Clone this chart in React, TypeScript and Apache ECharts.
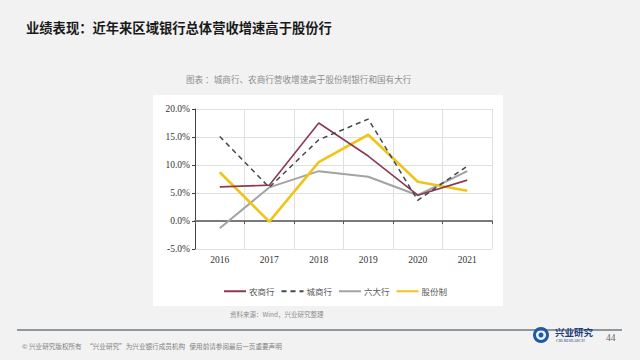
import React, { useEffect, useRef } from "react";
import * as echarts from "echarts";

const years = ["2016", "2017", "2018", "2019", "2020", "2021"];
const nongshang = [6.1, 6.4, 17.5, 11.6, 4.6, 7.3];
const chengshang = [15.1, 6.0, 14.5, 18.2, 3.7, 9.8];
const liuda = [-1.3, 6.0, 8.9, 7.9, 4.6, 8.9];
const gufen = [8.7, -0.1, 10.5, 15.4, 7.0, 5.4];
const seriesNames = ["农商行", "城商行", "六大行", "股份制"];

const serif = "'Liberation Serif', 'DejaVu Serif', serif";
const cjk = "'Noto Sans CJK SC', sans-serif";

export default function App() {
  const ref = useRef<HTMLDivElement>(null);
  useEffect(() => {
    document.body.style.margin = "0";
    const chart = echarts.init(ref.current!, null, { renderer: "svg" });
    const grid = { left: 195, top: 109, width: 297, height: 140 };
    chart.setOption({
      animation: false,
      backgroundColor: "#f2f2f2",
      grid,
      legend: {
        top: 282,
        left: 218,
        itemWidth: 22,
        itemHeight: 8,
        itemGap: 6,
        itemStyle: { opacity: 0 },
        textStyle: { fontFamily: cjk, fontSize: 8.5, color: "#595959", padding: [0, 0, 0, -2] },
        data: seriesNames,
      },
      xAxis: [
        {
          type: "category",
          data: years,
          boundaryGap: true,
          position: "bottom",
          axisLine: { show: false, onZero: false },
          axisTick: { show: false },
          axisLabel: { fontFamily: serif, fontSize: 9.5, color: "#333", margin: 6 },
          splitLine: { show: true, lineStyle: { color: "#e0e0e0", width: 1 } },
        },
        {
          type: "category",
          data: years,
          boundaryGap: true,
          position: "bottom",
          axisLine: { show: true, onZero: true, lineStyle: { color: "#7a7a7a", width: 2 } },
          axisTick: { show: true, length: 3, lineStyle: { color: "#555" } },
          axisLabel: { show: false },
          splitLine: { show: false },
        },
      ],
      yAxis: {
        type: "value",
        min: -5,
        max: 20,
        interval: 5,
        axisLine: { show: true, onZero: false, lineStyle: { color: "#404040", width: 1 } },
        axisTick: { show: true, length: 3, lineStyle: { color: "#404040" } },
        axisLabel: {
          fontFamily: serif,
          fontSize: 9.5,
          color: "#333",
          margin: 5,
          formatter: (v: number) => v.toFixed(1) + "%",
        },
        splitLine: { show: true, lineStyle: { color: "#e0e0e0", width: 1 } },
      },
      series: [
        {
          name: "农商行",
          type: "line",
          data: nongshang,
          symbol: "none",
          lineStyle: { color: "#8c3a52", width: 1.6 },
          itemStyle: { color: "#8c3a52" },
          z: 4,
        },
        {
          name: "城商行",
          type: "line",
          data: chengshang,
          symbol: "none",
          lineStyle: { color: "#404850", width: 1.5, type: [5, 4] },
          itemStyle: { color: "#404850" },
          z: 5,
        },
        {
          name: "六大行",
          type: "line",
          data: liuda,
          symbol: "none",
          lineStyle: { color: "#a3a3a3", width: 2 },
          itemStyle: { color: "#a3a3a3" },
          z: 3,
        },
        {
          name: "股份制",
          type: "line",
          data: gufen,
          symbol: "none",
          lineStyle: { color: "#f0c419", width: 2.6 },
          itemStyle: { color: "#f0c419" },
          z: 3,
        },
      ],
      graphic: [
        {
          type: "rect",
          z: -10,
          shape: { x: 153, y: 95, width: 350, height: 211 },
          style: { fill: "#ffffff" },
        },
        {
          type: "text",
          x: 26,
          y: 27,
          style: {
            text: "业绩表现：近年来区域银行总体营收增速高于股份行",
            font: `bold 13.3px ${cjk}`,
            fill: "#1a1a1a",
            verticalAlign: "middle",
          },
        },
        {
          type: "text",
          x: 186,
          y: 79,
          style: {
            text: "图表 ：城商行、农商行营收增速高于股份制银行和国有大行",
            font: `8.6px ${cjk}`,
            fill: "#8c8c8c",
            verticalAlign: "middle",
          },
        },
        {
          type: "text",
          x: 230,
          y: 314,
          style: {
            text: "资料来源：Wind，兴业研究整理",
            font: `6.5px ${cjk}`,
            fill: "#8c8c8c",
            verticalAlign: "middle",
          },
        },
        {
          type: "line",
          shape: { x1: 17, y1: 330, x2: 622, y2: 330 },
          style: { stroke: "#8f989f", lineWidth: 2 },
        },
        {
          type: "text",
          x: 22,
          y: 346,
          style: {
            text: "© 兴业研究版权所有   \u201c兴业研究\u201d为兴业银行成员机构   使用前请参阅最后一页重要声明",
            font: `6.6px ${cjk}`,
            fill: "#7f7f7f",
            verticalAlign: "middle",
          },
        },
        {
          type: "ring",
          shape: { cx: 541, cy: 335, r: 8, r0: 5 },
          style: { fill: "#1e5aa6" },
        },
        {
          type: "circle",
          shape: { cx: 541, cy: 335, r: 2.5 },
          style: { fill: "#1e5aa6" },
        },
        {
          type: "text",
          x: 555,
          y: 332,
          style: {
            text: "兴业研究",
            font: `bold 9.5px ${cjk}`,
            fill: "#1e3f7a",
            verticalAlign: "middle",
          },
        },
        {
          type: "text",
          x: 556,
          y: 340,
          style: {
            text: "CIB RESEARCH",
            font: `4px ${serif}`,
            fill: "#1e3f7a",
            verticalAlign: "middle",
          },
        },
        {
          type: "text",
          x: 606,
          y: 338,
          style: {
            text: "44",
            font: `9.5px ${serif}`,
            fill: "#666",
            verticalAlign: "middle",
          },
        },
      ],
    });
    return () => chart.dispose();
  }, []);
  return (
    <div
      ref={ref}
      style={{ position: "absolute", left: 0, top: 0, width: 640, height: 360 }}
    />
  );
}
